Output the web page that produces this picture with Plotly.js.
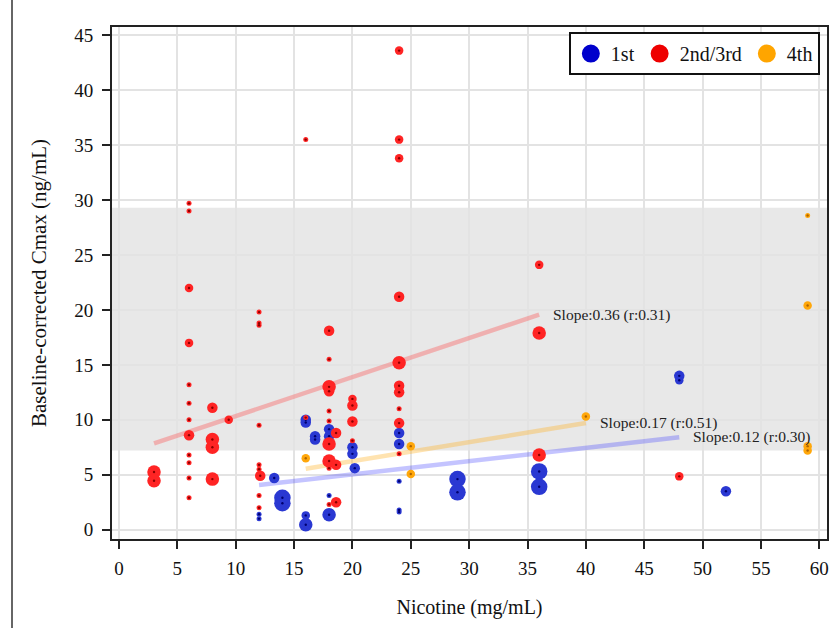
<!DOCTYPE html>
<html><head><meta charset="utf-8">
<script src="https://cdn.plot.ly/plotly-3.0.1.min.js"></script>
<style>html,body{margin:0;padding:0;background:#fff}#chart{width:831px;height:628px}</style>
</head><body><div id="chart"></div>
<script>
// ---------------- data ----------------
const groupNames = ['1st', '2nd/3rd', '4th'];

const blueX = [12, 12, 13.3, 14, 14, 16, 16, 16, 16, 16.8, 16.8, 18, 18, 18, 18, 18, 20, 20, 20.2, 24, 24, 24, 24, 24, 29, 29, 36, 36, 48, 48, 52];
const blueY = [1.4, 1.0, 4.7, 2.9, 2.4, 10.0, 9.75, 1.3, 0.45, 8.5, 8.2, 12.5, 9.15, 8.5, 3.1, 1.36, 7.5, 6.9, 5.6, 8.8, 7.8, 4.4, 1.8, 1.6, 4.6, 3.4, 5.3, 3.9, 14.0, 13.6, 3.5];
const blueW = [1, 1, 3, 5, 5, 3, 3, 2, 4, 3, 3, 1, 3, 3, 1, 4, 3, 3, 3, 3, 3, 1, 1, 1, 5, 5, 5, 5, 3, 2, 3];

const redX = [3, 3,
  6, 6, 6, 6, 6, 6, 6, 6, 6, 6, 6, 6,
  8, 8, 8, 8,
  9.4,
  12, 12, 12, 12, 12, 12, 12.1, 12, 12,
  16, 16,
  18, 18, 18, 18, 18, 18, 18.6, 18, 18, 18.6, 18, 18, 18.6,
  20, 20, 20, 20,
  24, 24, 24, 24, 24, 24, 24, 24, 24, 24,
  36, 36, 36,
  48];
const redY = [5.25, 4.45,
  29.7, 29.0, 22.0, 17.0, 13.2, 11.5, 10.0, 8.6, 6.8, 6.1, 4.7, 2.9,
  11.1, 8.2, 7.5, 4.6,
  10.0,
  19.8, 18.8, 18.6, 9.5, 5.9, 5.5, 4.9, 3.1, 2.0,
  35.5, 10.2,
  18.1, 15.5, 13.0, 12.6, 10.8, 9.9, 8.8, 7.8, 6.25, 5.9, 5.6, 2.3, 2.5,
  11.9, 11.3, 9.85, 8.1,
  43.6, 35.5, 33.8, 21.2, 15.2, 13.1, 12.5, 11.0, 9.7, 6.9,
  24.1, 17.9, 6.8,
  4.85];
const redW = [4, 4,
  1, 1, 2, 2, 1, 1, 1, 3, 1, 1, 1, 1,
  3, 4, 4, 4,
  2,
  1, 1, 1, 1, 1, 1, 3, 1, 1,
  1, 1,
  3, 1, 4, 3, 1, 1, 3, 4, 4, 3, 1, 1, 3,
  2, 3, 3, 1,
  2, 2, 2, 3, 4, 3, 3, 1, 3, 1,
  2, 4, 4,
  2];

const orangeX = [16, 25, 25, 40, 59, 59, 59, 59];
const orangeY = [6.5, 7.6, 5.06, 10.3, 28.6, 20.4, 7.6, 7.2];
const orangeW = [2, 2, 2, 2, 1, 2, 2, 2];

// regression fits (order: 1st, 2nd/3rd, 4th)
const fitSlope = [0.121, 0.355, 0.173];
const fitIntercept = [2.608, 6.785, 2.782];
const fitXStart = [12, 3, 16];
const fitXEnd = [48, 36, 40];
const fitLabels = ['Slope:0.12 (r:0.30)', 'Slope:0.36 (r:0.31)', 'Slope:0.17 (r:0.51)'];

// reference band
const bandLow = 7.2;
const bandHigh = 29.3;

const xTickVals = [0, 5, 10, 15, 20, 25, 30, 35, 40, 45, 50, 55, 60];
const yTickVals = [0, 5, 10, 15, 20, 25, 30, 35, 40, 45];

// ---------------- styles ----------------
const FONT = 'Liberation Serif, Times New Roman, serif';
const legendColors = ['#0000cc', '#ee0000', '#ffa500'];
const fillColors = ['#2a38d2', '#ff2424', '#ffa70a'];
const dotColors = ['#000070', '#8a0000', '#b06400'];
const lineColors = ['rgba(60,60,255,0.30)', 'rgba(255,60,60,0.32)', 'rgba(255,175,30,0.35)'];
const sizeOfClass = {1: 5, 2: 8.5, 3: 10.5, 4: 13.5, 5: 16.5};

const groupsX = [blueX, redX, orangeX];
const groupsY = [blueY, redY, orangeY];
const groupsW = [blueW, redW, orangeW];

const traces = [];
for (let g = 0; g < 3; g++) {
  const xs = [fitXStart[g], fitXEnd[g]];
  traces.push({
    type: 'scatter', mode: 'lines', x: xs,
    y: xs.map(v => fitIntercept[g] + fitSlope[g] * v),
    line: {color: lineColors[g], width: 4.5},
    showlegend: false, hoverinfo: 'skip'
  });
}
for (let g = 0; g < 3; g++) {
  traces.push({
    type: 'scatter', mode: 'markers', x: groupsX[g], y: groupsY[g],
    marker: {color: fillColors[g], opacity: 1, size: groupsW[g].map(w => sizeOfClass[w]), line: {width: 0}},
    showlegend: false
  });
  traces.push({
    type: 'scatter', mode: 'markers', x: groupsX[g], y: groupsY[g],
    marker: {color: dotColors[g], opacity: 1, size: 2.4, line: {width: 0}},
    showlegend: false, hoverinfo: 'skip'
  });
}
for (let g = 0; g < 3; g++) {
  traces.push({
    type: 'scatter', mode: 'markers', x: [null], y: [null], name: groupNames[g],
    marker: {color: legendColors[g], opacity: 1, size: 16, line: {color: legendColors[g], width: 2}},
    showlegend: true
  });
}

const annotations = [];
for (let g = 0; g < 3; g++) {
  annotations.push({
    x: fitXEnd[g], y: fitIntercept[g] + fitSlope[g] * fitXEnd[g],
    xref: 'x', yref: 'y', text: fitLabels[g], showarrow: false,
    xanchor: 'left', yanchor: 'middle', xshift: 12,
    font: {family: FONT, size: 15.5, color: '#222'}
  });
}

const L = 112, R = 4, T = 27, B = 89;
const W = 831, H = 628;
const pw = W - L - R, ph = H - T - B;

const layout = {
  width: W, height: H,
  margin: {l: L, r: R, t: T, b: B, pad: 0},
  paper_bgcolor: '#fff', plot_bgcolor: '#fff',
  font: {family: FONT, color: '#111'},
  showlegend: true,
  legend: {
    orientation: 'h', x: 0.99, xanchor: 'right', y: 0.99, yanchor: 'top',
    bgcolor: '#fff', bordercolor: '#111', borderwidth: 2,
    font: {family: FONT, size: 20, color: '#111'}
  },
  xaxis: {
    range: [-0.6, 60.66], tickvals: xTickVals, ticktext: xTickVals.map(String),
    showgrid: true, gridcolor: '#e3e3e3', gridwidth: 2,
    zeroline: true, zerolinecolor: '#e3e3e3', zerolinewidth: 2,
    showline: true, linecolor: '#222', linewidth: 2, mirror: true,
    ticks: 'outside', ticklen: 8, tickwidth: 2, tickcolor: '#222',
    ticklabelstandoff: 3,
    tickfont: {family: FONT, size: 19, color: '#111'},
    title: {text: 'Nicotine (mg/mL)', font: {family: FONT, size: 20, color: '#111'}, standoff: 22},
    automargin: false
  },
  yaxis: {
    range: [-0.85, 45.75], tickvals: yTickVals, ticktext: yTickVals.map(String),
    showgrid: true, gridcolor: '#e3e3e3', gridwidth: 2,
    zeroline: true, zerolinecolor: '#e3e3e3', zerolinewidth: 2,
    showline: true, linecolor: '#222', linewidth: 2, mirror: true,
    ticks: 'outside', ticklen: 8, tickwidth: 2, tickcolor: '#222',
    ticklabelstandoff: 5,
    tickfont: {family: FONT, size: 19, color: '#111'},
    title: {text: 'Baseline-corrected Cmax (ng/mL)', font: {family: FONT, size: 21, color: '#111'}, standoff: 22},
    automargin: false
  },
  shapes: [
    {type: 'rect', xref: 'paper', yref: 'y', x0: 0, x1: 1, y0: bandLow, y1: bandHigh,
     fillcolor: '#e8e8e8', line: {width: 0}, layer: 'below'},
    {type: 'line', xref: 'paper', yref: 'paper',
     x0: (12 - L) / pw, x1: (12 - L) / pw, y0: -B / ph, y1: (ph + T) / ph,
     line: {color: '#333', width: 1.5}}
  ],
  annotations: annotations
};

Plotly.newPlot('chart', traces, layout, {displayModeBar: false, staticPlot: true});
</script>
</body></html>
